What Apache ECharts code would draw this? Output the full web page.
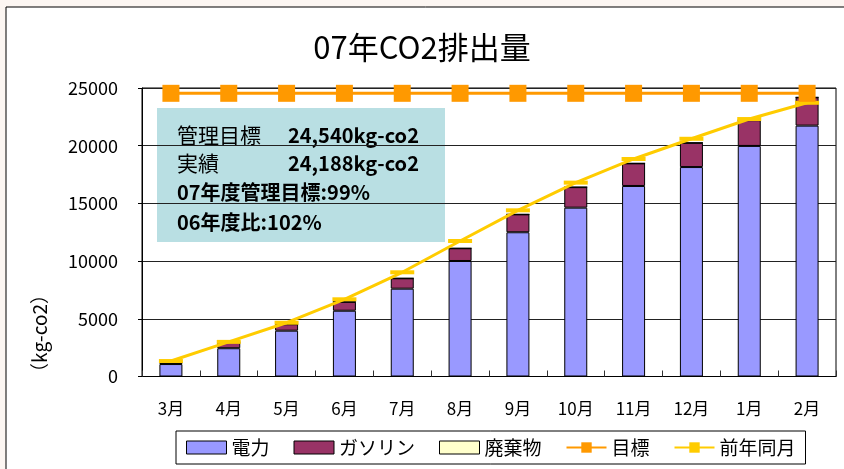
<!DOCTYPE html>
<html>
<head>
<meta charset="utf-8">
<script src="https://cdn.jsdelivr.net/npm/echarts@6/dist/echarts.min.js"></script>
<style>
html,body{margin:0;padding:0;background:#fcf6f2;}
#c{width:844px;height:469px;}
</style>
</head>
<body>
<div id="c"></div>
<script>
const months = ['3月','4月','5月','6月','7月','8月','9月','10月','11月','12月','1月','2月'];
const denryoku = [1080, 2450, 3970, 5700, 7610, 10010, 12500, 14630, 16510, 18150, 19980, 21740];
const gasoline = [130, 530, 560, 770, 900, 1100, 1550, 1780, 1960, 2100, 2230, 2448];
const haikibutsu = [0, 0, 0, 0, 0, 0, 0, 0, 0, 0, 0, 0];
const mokuhyo = [24540, 24540, 24540, 24540, 24540, 24540, 24540, 24540, 24540, 24540, 24540, 24540];
const zennen = [1340, 3000, 4660, 6690, 9030, 11740, 14400, 16800, 18850, 20600, 22310, 23720];
const yTicks = [0, 5000, 10000, 15000, 20000, 25000];

const F = '"Noto Sans CJK JP", "Noto Sans", sans-serif';
const chart = echarts.init(document.getElementById('c'), null, {renderer: 'canvas'});
const barStyle = (c) => ({color: c, borderColor: '#000', borderWidth: 1});

chart.setOption({
  animation: false,
  backgroundColor: 'transparent',
  textStyle: {fontFamily: F, color: '#000'},
  title: {
    text: '07年CO2排出量', left: 'center', top: 27,
    textStyle: {fontFamily: F, fontSize: 31, fontWeight: 'normal', color: '#000'}
  },
  grid: {left: 142, right: 8, top: 88, bottom: 92.5, show: true, borderColor: '#000', borderWidth: 1, backgroundColor: '#fff'},
  legend: {
    left: 176, top: 431,
    padding: [7, 10, 7, 10],
    itemGap: 24, itemWidth: 40, itemHeight: 13,
    borderColor: '#000', borderWidth: 1, backgroundColor: '#fff',
    textStyle: {fontFamily: F, fontSize: 19, color: '#000'},
    data: [
      {name: '電力', icon: 'rect', itemStyle: {borderColor: '#000', borderWidth: 1}},
      {name: 'ガソリン', icon: 'rect', itemStyle: {borderColor: '#000', borderWidth: 1}},
      {name: '廃棄物', icon: 'rect', itemStyle: {borderColor: '#000', borderWidth: 1}},
      '目標', '前年同月'
    ]
  },
  xAxis: {
    type: 'category', data: months,
    axisLine: {lineStyle: {color: '#000', width: 1}},
    axisTick: {show: true, inside: true, length: 6, alignWithLabel: false, lineStyle: {color: '#333'}},
    axisLabel: {fontSize: 17, color: '#000', margin: 24, fontFamily: F}
  },
  yAxis: {
    type: 'value', min: yTicks[0], max: yTicks[yTicks.length-1], interval: 5000,
    axisLine: {show: true, lineStyle: {color: '#000'}},
    axisTick: {show: true, length: 4, lineStyle: {color: '#000'}},
    splitLine: {show: true, lineStyle: {color: '#222', width: 1}},
    axisLabel: {fontSize: 18, color: '#000', margin: 24, fontFamily: F, formatter: (v) => String(v)}
  },
  graphic: [
    {type: 'rect', z: -10, silent: true, shape: {x: 6, y: 7, width: 900, height: 500}, style: {fill: '#fff', stroke: '#000', lineWidth: 1}},
    {type: 'text', left: 30, top: 285, rotation: Math.PI/2, silent: true,
      style: {text: '（kg-co2）', font: '19px ' + F, fill: '#000'}},
    {type: 'group', z: 100, silent: true, children: [
      {type: 'rect', shape: {x: 157, y: 108, width: 288, height: 134}, style: {fill: '#B9DFE3'}},
      {type: 'text', x: 177, y: 135, style: {text: '管理目標', font: '21px ' + F, fill: '#000', textVerticalAlign: 'middle'}},
      {type: 'text', x: 288, y: 135, style: {text: '24,540kg-co2', font: 'bold 20px ' + F, fill: '#000', textVerticalAlign: 'middle'}},
      {type: 'text', x: 177, y: 163, style: {text: '実績', font: '21px ' + F, fill: '#000', textVerticalAlign: 'middle'}},
      {type: 'text', x: 288, y: 163, style: {text: '24,188kg-co2', font: 'bold 20px ' + F, fill: '#000', textVerticalAlign: 'middle'}},
      {type: 'text', x: 177, y: 192, style: {text: '07年度管理目標:99%', font: 'bold 20px ' + F, fill: '#000', textVerticalAlign: 'middle'}},
      {type: 'text', x: 177, y: 222, style: {text: '06年度比:102%', font: 'bold 20px ' + F, fill: '#000', textVerticalAlign: 'middle'}}
    ]}
  ],
  series: [
    {name: '電力', type: 'bar', stack: 'a', barWidth: 23, data: denryoku, itemStyle: barStyle('#9999FF')},
    {name: 'ガソリン', type: 'bar', stack: 'a', barWidth: 23, data: gasoline, itemStyle: barStyle('#993366')},
    {name: '廃棄物', type: 'bar', stack: 'a', barWidth: 23, data: haikibutsu, itemStyle: barStyle('#FFFFCC')},
    {name: '目標', type: 'line', data: mokuhyo, z: 5, symbol: 'rect', symbolSize: 17,
      lineStyle: {color: '#FF9900', width: 3}, itemStyle: {color: '#FF9900'}},
    {name: '前年同月', type: 'line', data: zennen, z: 4, symbol: 'rect', symbolSize: [24, 4],
      lineStyle: {color: '#FFCC00', width: 3}, itemStyle: {color: '#FFCC00'}}
  ]
});
</script>
</body>
</html>
